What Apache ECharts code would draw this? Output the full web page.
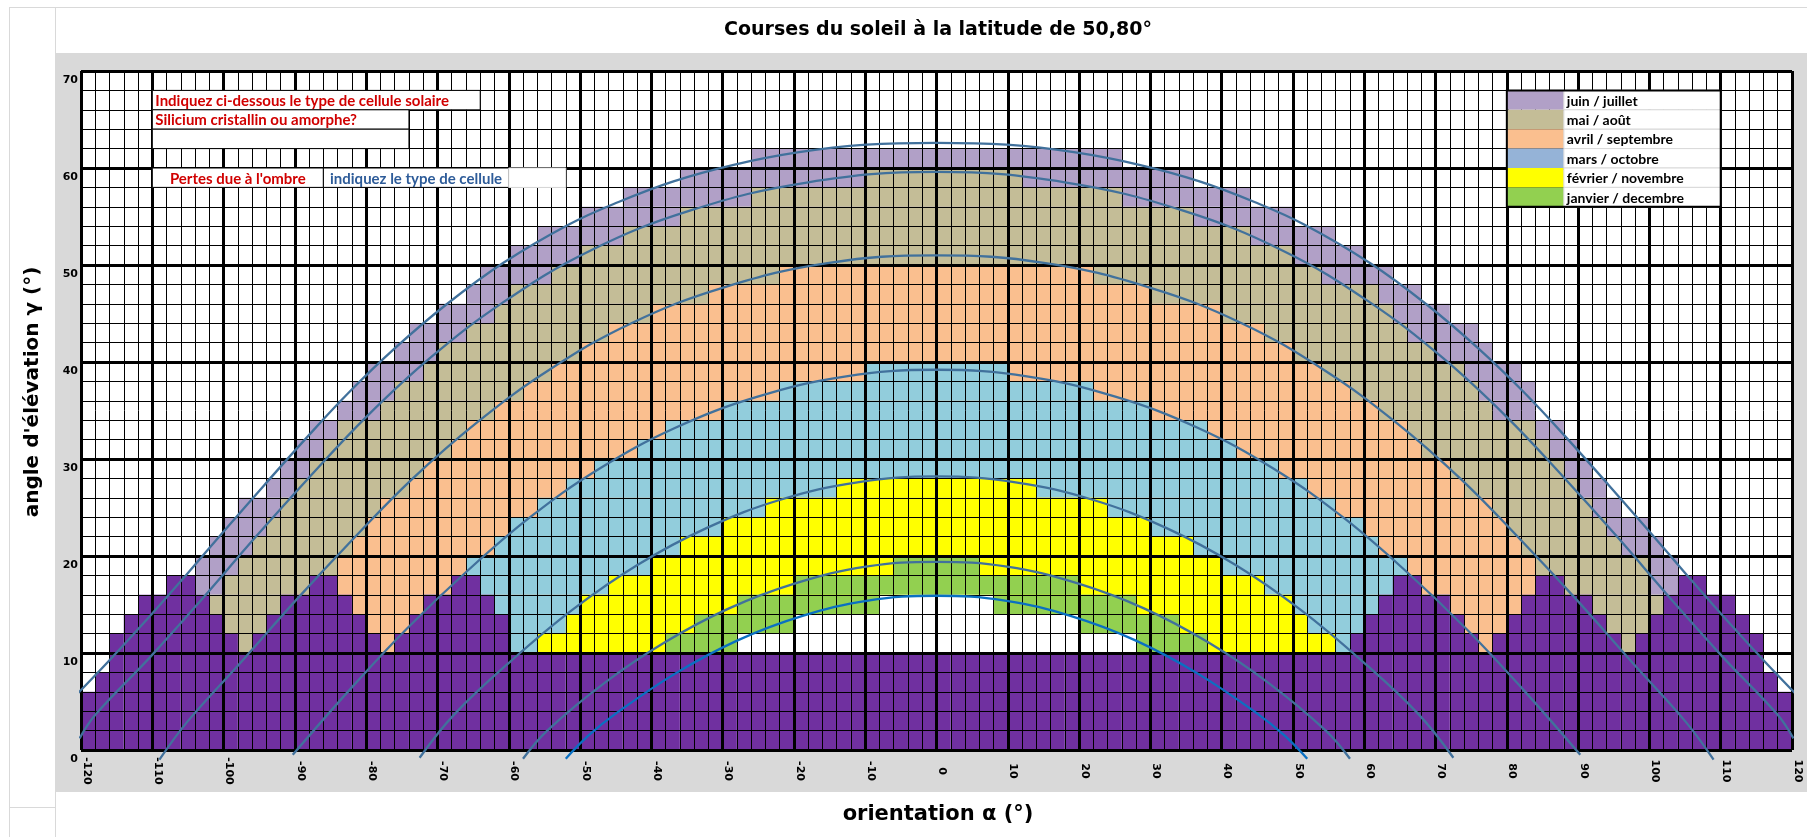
<!DOCTYPE html>
<html lang="fr">
<head>
<meta charset="utf-8">
<title>Courses du soleil</title>
<script src="https://cdn.jsdelivr.net/npm/echarts@6.0.0/dist/echarts.min.js"></script>
<style>
  html, body { margin: 0; padding: 0; background: #fff; }
  #page { position: relative; width: 1807px; height: 837px; overflow: hidden; }
  .deco { position: absolute; }
  #chart { position: absolute; left: 0; top: 0; width: 1807px; height: 837px; }
</style>
</head>
<body>
<div id="page">
  <div class="deco" style="left:9px;top:7px;width:1798px;height:830px;border-left:1px solid #d9d9d9;border-top:1px solid #d9d9d9;"></div>
  <div class="deco" style="left:55px;top:7px;width:0;height:46px;border-left:1px solid #d9d9d9;"></div>
  <div class="deco" style="left:55px;top:792px;width:0;height:45px;border-left:1px solid #d9d9d9;"></div>
  <div class="deco" style="left:9px;top:807px;width:46px;height:0;border-top:1px solid #d9d9d9;"></div>
  <div class="deco" style="left:55px;top:53px;width:1752px;height:739px;background:#d9d9d9;"></div>
  <div id="chart"></div>
</div>
<script>
// --- courbes du soleil : [orientation, élévation] ---
const courseJuin = [[-121.3,5.2],[-116.2,9.1],[-110.7,13.5],[-105.3,18.0],[-99.9,22.6],[-94.3,27.3],[-88.6,32.0],[-82.5,36.8],[-76.0,41.4],[-68.8,45.9],[-60.8,50.2],[-51.5,54.2],[-44.6,56.5],[-37.0,58.6],[-28.6,60.3],[-19.5,61.6],[-9.8,62.4],[0,62.6],[9.8,62.4],[19.5,61.6],[28.6,60.3],[37.0,58.6],[44.6,56.5],[51.5,54.2],[60.8,50.2],[68.8,45.9],[76.0,41.4],[82.5,36.8],[88.6,32.0],[94.3,27.3],[99.9,22.6],[105.3,18.0],[110.7,13.5],[116.2,9.1],[121.3,5.2]];
const courseMai = [[-120.2,1.2],[-117.9,3.7],[-110.4,9.5],[-103.1,15.5],[-95.7,21.8],[-88.0,28.1],[-79.9,34.4],[-70.9,40.5],[-60.7,46.2],[-48.8,51.4],[-34.6,55.6],[-18.2,58.5],[0,59.6],[18.2,58.5],[34.6,55.6],[48.8,51.4],[60.7,46.2],[70.9,40.5],[79.9,34.4],[88.0,28.1],[95.7,21.8],[103.1,15.5],[110.4,9.5],[117.9,3.7],[120.2,1.2]];
const courseAvril = [[-109.0,-1.0],[-105.1,2.9],[-97.5,9.1],[-89.9,15.4],[-81.9,21.7],[-73.6,27.9],[-64.4,33.8],[-54.3,39.2],[-42.8,44.0],[-29.8,47.7],[-15.3,50.2],[0,51.0],[15.3,50.2],[29.8,47.7],[42.8,44.0],[54.3,39.2],[64.4,33.8],[73.6,27.9],[81.9,21.7],[89.9,15.4],[97.5,9.1],[105.1,2.9],[109.0,-1.0]];
const courseMars = [[-90.3,-0.5],[-82.2,6.3],[-74.3,12.5],[-65.9,18.4],[-57.0,24.0],[-47.3,29.0],[-36.7,33.2],[-25.2,36.4],[-12.9,38.5],[0,39.2],[12.9,38.5],[25.2,36.4],[36.7,33.2],[47.3,29.0],[57.0,24.0],[65.9,18.4],[74.3,12.5],[82.2,6.3],[90.3,-0.5]];
const courseFevrier = [[-72.5,-0.8],[-67.6,3.7],[-59.5,9.3],[-51.0,14.5],[-41.9,19.1],[-32.2,22.9],[-21.9,25.8],[-11.1,27.6],[0,28.2],[11.1,27.6],[21.9,25.8],[32.2,22.9],[41.9,19.1],[51.0,14.5],[59.5,9.3],[67.6,3.7],[72.5,-0.8]];
const courseJanvier = [[-58.0,-0.9],[-54.6,2.0],[-46.6,6.9],[-38.1,11.1],[-29.1,14.6],[-19.7,17.2],[-9.9,18.9],[0,19.4],[9.9,18.9],[19.7,17.2],[29.1,14.6],[38.1,11.1],[46.6,6.9],[54.6,2.0],[58.0,-0.9]];
const courseDecembre = [[-52.0,-0.9],[-48.8,1.5],[-44.9,3.8],[-36.6,7.9],[-27.9,11.3],[-18.9,13.8],[-9.6,15.4],[0,15.9],[9.6,15.4],[18.9,13.8],[27.9,11.3],[36.6,7.9],[44.9,3.8],[48.8,1.5],[52.0,-0.9]];

// --- zones colorées par ligne : [élévation bas, orientation gauche, orientation droite] ---
const zoneJuin = [[60,-26,26],[58,-36,36],[56,-44,44],[54,-50,50],[52,-56,56],[50,-60,60],[48,-64,64],[46,-66,68],[44,-70,72],[42,-74,76],[40,-76,78],[38,-80,82],[36,-82,84],[34,-84,84],[32,-88,88],[30,-90,90],[28,-92,92],[26,-94,94],[24,-98,96],[22,-100,100],[20,-102,102],[18,-104,104],[16,-106,106],[14,-110,110],[12,-112,112],[10,-114,114]];
const zoneMai = [[58,-10,12],[56,-26,26],[54,-36,36],[52,-44,44],[50,-50,50],[48,-54,54],[46,-60,62],[44,-62,64],[42,-66,66],[40,-70,70],[38,-72,74],[36,-76,76],[34,-78,78],[32,-84,84],[30,-86,86],[28,-88,88],[26,-90,90],[24,-92,92],[22,-94,94],[20,-96,96],[18,-98,100],[16,-100,100],[14,-102,102],[12,-104,104],[10,-106,106]];
const zoneAvril = [[48,-22,22],[46,-32,30],[44,-40,40],[42,-46,46],[40,-50,50],[38,-54,54],[36,-58,58],[34,-62,62],[32,-66,66],[30,-68,68],[28,-72,72],[26,-74,74],[24,-78,78],[22,-80,80],[20,-82,82],[18,-84,84],[16,-88,88],[14,-90,90],[12,-92,92],[10,-96,96]];
const zoneMars = [[38,-10,10],[36,-22,22],[34,-30,30],[32,-38,38],[30,-42,42],[28,-48,48],[26,-52,52],[24,-56,56],[22,-60,60],[20,-62,62],[18,-66,66],[16,-68,68],[14,-72,72],[12,-74,74],[10,-76,76]];
const zoneFevrier = [[26,-14,14],[24,-24,24],[22,-30,30],[20,-36,36],[18,-40,40],[16,-46,46],[14,-50,50],[12,-52,52],[10,-56,56]];
const zoneJanvier = [[18,-6,6],[16,-20,20],[14,-28,28],[12,-34,34],[10,-38,38]];
const zoneSousDecembre = [[14,-8,8],[12,-20,20],[10,-28,28]];

// --- ombre : hauteur de l'obstacle pour chaque colonne de 2°, de -120 à 118 ---
const ombre = [
  6, 8, 12, 14, 16, 16, 18, 18, 16, 14, 12, 10,
  12, 14, 16, 16, 18, 18, 16, 14, 12, 10,
  12, 14, 16, 16, 18, 18, 16, 14, 10,
  10, 10, 10, 10, 10, 10, 10, 10, 10, 10, 10, 10, 10, 10, 10, 10, 10, 10, 10, 10,
  10, 10, 10, 10, 10, 10, 10, 10, 10, 10, 10, 10, 10, 10, 10, 10, 10, 10, 10, 10,
  10, 10, 10, 10, 10, 10, 10, 10, 10, 10, 10, 10, 10, 10, 10, 10, 10, 10,
  12, 14, 16, 18, 18, 16, 16, 14, 12, 10,
  12, 14, 16, 18, 18, 16, 16, 14, 12, 10,
  12, 14, 16, 18, 18, 16, 16, 14, 12, 8, 6
];

const legendeTextes = ['juin / juillet', 'mai / août', 'avril / septembre', 'mars / octobre', 'février / novembre', 'janvier / decembre'];
const legendeCouleurs = ['#B1A0C7', '#C4BD97', '#FABF8F', '#95B3D7', '#FFFF00', '#92D050'];

const titre = 'Courses du soleil à la latitude de 50,80°';
const titreX = 'orientation α (°)';
const titreY = "angle d'élévation γ (°)";

// couleurs des cases : juin, mai, avril, mars, février, janvier, blanc, ombre
const couleursCases = ['#B1A0C7', '#C4BD97', '#FABF8F', '#92CDDC', '#FFFF00', '#92D050', '#FFFFFF', '#7030A0'];

const cases = [];
[zoneJuin, zoneMai, zoneAvril, zoneMars, zoneFevrier, zoneJanvier, zoneSousDecembre].forEach((zone, k) => {
  zone.forEach(([y, g, d]) => cases.push([g, d, y, y + 2, k]));
});
ombre.forEach((h, i) => {
  const x = -120 + 2 * i;
  cases.push([x, x + 2, 0, h, 7]);
});

// cadres de texte et légende (coordonnées du quadrillage)
const cadres = [
  { x0: -110, x1: -64, y0: 66, y1: 68, texte: 'Indiquez ci-dessous le type de cellule solaire', couleur: '#D00000', align: 'left', trait: '#000' },
  { x0: -110, x1: -74, y0: 64, y1: 66, texte: 'Silicium cristallin ou amorphe?', couleur: '#D00000', align: 'left', trait: '#000' },
  { x0: -110, x1: -74, y0: 62, y1: 64, texte: '', trait: '#000' },
  { x0: -110, x1: -86, y0: 58, y1: 60, texte: "Pertes due à l'ombre", couleur: '#D00000', align: 'center', trait: '#000' },
  { x0: -86, x1: -60, y0: 58, y1: 60, texte: 'indiquez le type de cellule', couleur: '#2E5C99', align: 'center', trait: '#000' },
  { x0: -60, x1: -52, y0: 58, y1: 60, texte: '', trait: '#e0e0e0' }
];
legendeTextes.forEach((t, i) => {
  const y0 = 66 - 2 * i;
  cadres.push({ x0: 80, x1: 88, y0: y0, y1: y0 + 2, fond: legendeCouleurs[i], trait: null });
  cadres.push({ x0: 88, x1: 110, y0: y0, y1: y0 + 2, texte: t, couleur: '#000', align: 'left', trait: '#d9d9d9', taille: 14 });
});
cadres.push({ x0: 80, x1: 110, y0: 56, y1: 68, fond: 'none', trait: '#000', epaisseur: 2 });

const chart = echarts.init(document.getElementById('chart'));

function dessinerCase(params, api) {
  const a = api.coord([api.value(0), api.value(3)]);
  const b = api.coord([api.value(1), api.value(2)]);
  return {
    type: 'rect',
    shape: { x: a[0], y: a[1], width: b[0] - a[0], height: b[1] - a[1] },
    style: { fill: couleursCases[api.value(4)] }
  };
}

function dessinerCadre(params, api) {
  const c = cadres[params.dataIndex];
  const a = api.coord([c.x0, c.y1]);
  const b = api.coord([c.x1, c.y0]);
  const w = b[0] - a[0];
  const h = b[1] - a[1];
  const enfants = [{
    type: 'rect',
    shape: { x: a[0], y: a[1], width: w, height: h },
    style: {
      fill: c.fond === 'none' ? null : (c.fond || '#fff'),
      stroke: c.trait || null,
      lineWidth: c.epaisseur || 1
    }
  }];
  if (c.texte) {
    enfants.push({
      type: 'text',
      x: c.align === 'center' ? a[0] + w / 2 : a[0] + 3,
      y: a[1] + h / 2 + 1,
      style: {
        text: c.texte,
        fill: c.couleur,
        font: 'bold ' + (c.taille || 15) + 'px Lato, "Open Sans", sans-serif',
        align: c.align,
        verticalAlign: 'middle'
      }
    });
  }
  return { type: 'group', children: enfants };
}

const courbes = [
  { nom: 'juin / juillet', data: courseJuin, couleur: '#41719C' },
  { nom: 'mai / août', data: courseMai, couleur: '#41719C' },
  { nom: 'avril / septembre', data: courseAvril, couleur: '#41719C' },
  { nom: 'mars / octobre', data: courseMars, couleur: '#41719C' },
  { nom: 'février / novembre', data: courseFevrier, couleur: '#41719C' },
  { nom: 'janvier', data: courseJanvier, couleur: '#41719C' },
  { nom: 'décembre', data: courseDecembre, couleur: '#0A70C2' }
];

const policeAxe = '"DejaVu Sans", Verdana, sans-serif';

const axeCommun = {
  type: 'value',
  z: 3,
  axisLine: { show: false },
  axisTick: { show: false },
  minorTick: { show: false, splitNumber: 5 },
  splitLine: { show: true, lineStyle: { color: '#000', width: 3 } },
  minorSplitLine: { show: true, lineStyle: { color: '#000', width: 1 } }
};

chart.setOption({
  animation: false,
  grid: {
    left: 81, top: 71, width: 1711, height: 679,
    show: true, backgroundColor: '#fff', borderWidth: 0,
    outerBoundsMode: 'none'
  },
  xAxis: Object.assign({}, axeCommun, {
    min: -120, max: 120, interval: 10,
    axisLabel: {
      rotate: -90, align: 'center', verticalAlign: 'bottom', margin: 21,
      showMinLabel: true, showMaxLabel: true,
      color: '#000', fontSize: 11, fontWeight: 'bold', fontFamily: policeAxe
    }
  }),
  yAxis: Object.assign({}, axeCommun, {
    min: 0, max: 70, interval: 10,
    axisLabel: {
      verticalAlign: 'top', margin: 3, padding: [4, 0, 0, 0],
      showMinLabel: true, showMaxLabel: true,
      color: '#000', fontSize: 11, fontWeight: 'bold', fontFamily: policeAxe
    }
  }),
  graphic: [
    { type: 'text', x: 938, y: 30, style: { text: titre, fill: '#000', font: 'bold 19px ' + policeAxe, align: 'center', verticalAlign: 'middle' } },
    { type: 'text', x: 938, y: 815, style: { text: titreX, fill: '#000', font: 'bold 21px ' + policeAxe, align: 'center', verticalAlign: 'middle' } },
    { type: 'text', x: 33, y: 392, rotation: Math.PI / 2, style: { text: titreY, fill: '#000', font: 'bold 20px ' + policeAxe, align: 'center', verticalAlign: 'middle' } }
  ],
  series: [
    {
      type: 'custom',
      name: 'cases',
      z: 1,
      silent: true,
      renderItem: dessinerCase,
      encode: { x: [0, 1], y: [2, 3] },
      data: cases
    }
  ].concat(courbes.map(c => ({
    type: 'line',
    name: c.nom,
    data: c.data,
    z: 4,
    smooth: 0.4,
    showSymbol: false,
    clip: false,
    silent: true,
    lineStyle: { color: c.couleur, width: 2.3 }
  }))).concat([
    {
      type: 'custom',
      name: 'cadres',
      z: 6,
      silent: true,
      renderItem: dessinerCadre,
      data: cadres.map(c => [c.x0, c.y0])
    }
  ])
});
</script>
</body>
</html>
